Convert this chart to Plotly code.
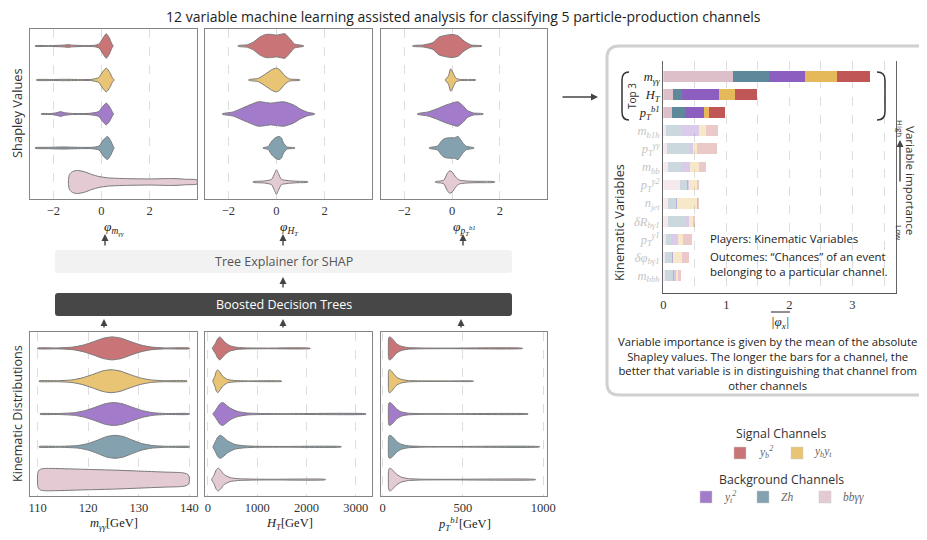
import plotly.graph_objects as go

OX, OY = 8, 8  # page body margin offset
W, H = 927 - 2 * OX, 540 - 2 * OY
SANS = "Open Sans, sans-serif"
SERIF = "Liberation Serif, DejaVu Serif, serif"


def px(x):
    return (x - OX) / W


def py(y):
    return 1 - (y - OY) / H


# ---------------- data ----------------
channels = ["y_b^2", "y_b y_t", "y_t^2", "Zh", "bbγγ"]
violin_colors = ["#c97476", "#e8c474", "#a27ccb", "#83a1af", "#e3cad3"]
bar_colors = ["#c05656", "#e5b85a", "#8c5ebf", "#5e899b", "#ddbfca"]

# Shapley value violin profiles (value positions, half widths) per channel
shap_myy_x = [
    [-2.75, -2.2, -1.6, -1.4, -1.2, -0.8, -0.3, -0.1, 0.05, 0.2, 0.32, 0.42, 0.48],
    [-2.7, -2.0, -1.5, -1.0, -0.4, -0.12, 0.05, 0.2, 0.35, 0.45, 0.52],
    [-2.5, -2.1, -1.85, -1.7, -1.55, -1.2, -0.5, -0.12, 0.05, 0.2, 0.35, 0.45, 0.5],
    [-2.75, -2.2, -1.6, -1.0, -0.4, -0.1, 0.08, 0.25, 0.38, 0.48, 0.52],
    [-1.37, -1.33, -1.2, -1.0, -0.7, -0.4, -0.1, 0.3, 1.0, 2.0, 2.7, 3.1, 3.5, 3.97],
]
shap_myy_w = [
    [0.01, 0.012, 0.025, 0.04, 0.025, 0.015, 0.02, 0.06, 0.22, 0.36, 0.25, 0.08, 0.01],
    [0.01, 0.015, 0.02, 0.015, 0.02, 0.07, 0.24, 0.35, 0.22, 0.07, 0.01],
    [0.01, 0.015, 0.04, 0.07, 0.04, 0.015, 0.02, 0.07, 0.22, 0.32, 0.2, 0.06, 0.01],
    [0.01, 0.02, 0.03, 0.02, 0.02, 0.06, 0.24, 0.34, 0.22, 0.06, 0.01],
    [0.08, 0.22, 0.31, 0.34, 0.3, 0.22, 0.16, 0.12, 0.1, 0.09, 0.1, 0.1, 0.08, 0.06],
]
shap_ht_x = [
    [-1.6, -1.2, -0.95, -0.7, -0.45, -0.2, 0.0, 0.15, 0.35, 0.55, 0.75, 1.12],
    [-1.15, -0.75, -0.45, -0.2, 0.0, 0.15, 0.35, 0.55, 0.97],
    [-2.24, -1.8, -1.4, -1.0, -0.75, -0.45, -0.25, 0.0, 0.3, 0.7, 1.0, 1.3, 1.58],
    [-0.55, -0.35, -0.2, -0.05, 0.1, 0.2, 0.3, 0.45, 0.76],
    [-0.97, -0.5, -0.2, -0.08, 0.0, 0.08, 0.2, 0.5, 0.9, 1.3],
]
shap_ht_w = [
    [0.01, 0.04, 0.12, 0.26, 0.34, 0.34, 0.32, 0.34, 0.36, 0.22, 0.06, 0.01],
    [0.01, 0.05, 0.18, 0.3, 0.35, 0.29, 0.12, 0.03, 0.01],
    [0.01, 0.06, 0.18, 0.3, 0.36, 0.34, 0.32, 0.34, 0.36, 0.27, 0.14, 0.05, 0.01],
    [0.01, 0.04, 0.2, 0.3, 0.34, 0.3, 0.14, 0.03, 0.01],
    [0.01, 0.03, 0.08, 0.25, 0.36, 0.25, 0.08, 0.04, 0.02, 0.01],
]
shap_pt_x = [
    [-1.64, -1.2, -0.8, -0.55, -0.3, 0.0, 0.25, 0.5, 0.8, 1.23],
    [-0.28, -0.15, -0.06, 0.05, 0.15, 0.3, 0.6, 0.98],
    [-1.44, -1.0, -0.6, -0.3, 0.0, 0.24, 0.45, 0.65, 0.9, 1.3],
    [-0.95, -0.6, -0.45, -0.3, -0.1, 0.1, 0.25, 0.45, 0.6, 0.91],
    [-0.7, -0.35, -0.2, -0.1, 0.0, 0.15, 0.3, 0.6, 1.0, 1.4, 1.78],
]
shap_pt_w = [
    [0.01, 0.03, 0.1, 0.26, 0.31, 0.34, 0.3, 0.15, 0.03, 0.01],
    [0.01, 0.12, 0.33, 0.2, 0.06, 0.02, 0.015, 0.01],
    [0.01, 0.06, 0.16, 0.25, 0.32, 0.36, 0.25, 0.1, 0.03, 0.01],
    [0.01, 0.06, 0.2, 0.28, 0.3, 0.3, 0.34, 0.15, 0.05, 0.01],
    [0.01, 0.05, 0.25, 0.33, 0.3, 0.15, 0.06, 0.03, 0.02, 0.02, 0.01],
]

# Kinematic distribution violin profiles
kin_myy_x = [
    [110, 114, 117, 119, 121, 123, 124.7, 126.5, 128.5, 130.5, 132.5, 135, 140],
    [110.3, 114, 116.8, 118.8, 120.8, 122.8, 124.5, 126.3, 128.3, 130.3, 132.3, 135, 139.5],
    [110.5, 114, 117.3, 119.3, 121.3, 123.3, 125, 126.8, 128.8, 130.8, 132.8, 135.5, 140],
    [110.3, 114.5, 118, 120, 121.8, 123.6, 125.3, 127, 128.8, 130.6, 132.6, 135.5, 140],
    [110, 110.15, 110.6, 111.5, 113, 120, 125, 130, 135, 138.5, 139.6, 139.95, 140],
]
kin_myy_w = [
    [0.01, 0.015, 0.04, 0.1, 0.2, 0.31, 0.35, 0.31, 0.2, 0.1, 0.04, 0.015, 0.01],
    [0.01, 0.015, 0.04, 0.1, 0.2, 0.31, 0.35, 0.31, 0.2, 0.1, 0.04, 0.015, 0.01],
    [0.01, 0.015, 0.04, 0.1, 0.2, 0.31, 0.35, 0.31, 0.2, 0.1, 0.04, 0.015, 0.01],
    [0.01, 0.015, 0.04, 0.1, 0.2, 0.31, 0.35, 0.31, 0.2, 0.1, 0.04, 0.015, 0.01],
    [0.15, 0.26, 0.32, 0.34, 0.34, 0.31, 0.29, 0.26, 0.23, 0.21, 0.17, 0.09, 0.02],
]
kin_ht_x = [
    [90, 150, 200, 240, 280, 350, 450, 600, 800, 1200, 2075],
    [100, 140, 170, 200, 240, 300, 400, 550, 800, 1493],
    [103, 150, 200, 250, 300, 350, 450, 600, 800, 1100, 1600, 3205],
    [103, 150, 200, 250, 300, 400, 550, 750, 1000, 1500, 2705],
    [75, 120, 170, 210, 260, 330, 450, 600, 900, 1300, 2383],
]
kin_ht_w = [
    [0.01, 0.15, 0.3, 0.35, 0.3, 0.18, 0.08, 0.03, 0.015, 0.01, 0.006],
    [0.01, 0.15, 0.3, 0.35, 0.28, 0.15, 0.05, 0.02, 0.01, 0.006],
    [0.01, 0.1, 0.22, 0.32, 0.35, 0.3, 0.18, 0.08, 0.03, 0.015, 0.01, 0.006],
    [0.01, 0.15, 0.3, 0.35, 0.31, 0.18, 0.07, 0.03, 0.015, 0.01, 0.006],
    [0.01, 0.12, 0.3, 0.35, 0.28, 0.15, 0.06, 0.03, 0.015, 0.01, 0.006],
]
kin_pt_x = [
    [36, 37, 40, 45, 55, 70, 90, 120, 160, 250, 400, 870],
    [36, 37, 40, 45, 55, 70, 90, 120, 160, 250, 400, 565],
    [36, 37, 40, 45, 55, 70, 90, 120, 160, 250, 400, 905],
    [36, 37, 40, 45, 55, 70, 90, 120, 160, 250, 400, 977],
    [36, 37, 40, 45, 55, 70, 90, 120, 160, 250, 400, 952],
]
kin_pt_w = [
    [0.2, 0.3, 0.34, 0.35, 0.32, 0.24, 0.13, 0.06, 0.025, 0.012, 0.008, 0.005],
    [0.2, 0.3, 0.34, 0.35, 0.31, 0.22, 0.11, 0.05, 0.02, 0.01, 0.007, 0.005],
    [0.2, 0.3, 0.34, 0.35, 0.32, 0.25, 0.14, 0.06, 0.025, 0.012, 0.008, 0.005],
    [0.2, 0.3, 0.34, 0.35, 0.33, 0.26, 0.15, 0.07, 0.03, 0.012, 0.008, 0.005],
    [0.15, 0.25, 0.32, 0.35, 0.32, 0.25, 0.15, 0.07, 0.03, 0.012, 0.008, 0.005],
]

# Mean |Shapley| importances per variable and channel
variables = [
    "<i>m<sub>γγ</sub></i>", "<i>H<sub>T</sub></i>", "<i>p<sub>T</sub><sup>b1</sup></i>",
    "<i>m<sub>b1h</sub></i>", "<i>p<sub>T</sub><sup>γγ</sup></i>", "<i>m<sub>bb</sub></i>",
    "<i>p<sub>T</sub><sup>γ2</sup></i>", "<i>n<sub>jet</sub></i>", "<i>δR<sub>bγ1</sub></i>",
    "<i>p<sub>T</sub><sup>γ1</sup></i>", "<i>δφ<sub>bγ1</sub></i>", "<i>m<sub>bbh</sub></i>",
]
imp_bbyy = [1.11, 0.156, 0.14, 0.05, 0.06, 0.08, 0.27, 0.08, 0.08, 0.05, 0.03, 0.02]
imp_zh = [0.56, 0.135, 0.20, 0.25, 0.35, 0.21, 0.12, 0.13, 0.27, 0.075, 0.12, 0.15]
imp_yt2 = [0.57, 0.595, 0.306, 0.26, 0.06, 0.14, 0.01, 0.005, 0.05, 0.105, 0.005, 0.03]
imp_ybyt = [0.52, 0.245, 0.074, 0.12, 0.07, 0.13, 0.13, 0.33, 0.07, 0.08, 0.135, 0.03]
imp_yb2 = [0.51, 0.36, 0.265, 0.195, 0.305, 0.11, 0.04, 0.02, 0.035, 0.14, 0.11, 0.05]

# ---------------- figure ----------------
fig = go.Figure()

cols = [(30, 197), (205, 372), (381, 547)]
top_y = (29, 199)
bot_y = (332, 496)

panels = [
    (shap_myy_x, shap_myy_w, cols[0], top_y, [-2.97, 3.97], [-2, 0, 2]),
    (shap_ht_x, shap_ht_w, cols[1], top_y, [-2.97, 3.97], [-2, 0, 2]),
    (shap_pt_x, shap_pt_w, cols[2], top_y, [-2.97, 3.97], [-2, 0, 2]),
    (kin_myy_x, kin_myy_w, cols[0], bot_y, [108.5, 141.5], [110, 120, 130, 140]),
    (kin_ht_x, kin_ht_w, cols[1], bot_y, [-60, 3330], [0, 1000, 2000, 3000]),
    (kin_pt_x, kin_pt_w, cols[2], bot_y, [-10, 1023], [0, 500, 1000]),
]

layout_axes = {}
for k, (xl, wl, xc, yc, rng, tv) in enumerate(panels, start=1):
    xa = "x" if k == 1 else f"x{k}"
    ya = "y" if k == 1 else f"y{k}"
    for i, (xs, ws) in enumerate(zip(xl, wl)):
        xx = list(xs) + list(xs[::-1]) + [xs[0]]
        yy = [i - w for w in ws] + [i + w for w in ws[::-1]] + [i - ws[0]]
        fig.add_trace(go.Scatter(
            x=xx, y=yy, mode="lines", fill="toself", fillcolor=violin_colors[i],
            line=dict(color="#7a7a7a", width=1, shape="spline", smoothing=0.6),
            xaxis=xa, yaxis=ya, hoverinfo="skip", showlegend=False))
    layout_axes["xaxis" if k == 1 else f"xaxis{k}"] = dict(
        domain=[px(xc[0]), px(xc[1])], range=rng, tickvals=tv, anchor=ya,
        showgrid=True, gridcolor="#dddddd", griddash="dash", gridwidth=1,
        showline=True, mirror=True, linecolor="#858585", linewidth=1.2,
        ticks="", zeroline=False, tickfont=dict(family=SERIF, size=12.5, color="#333"))
    layout_axes["yaxis" if k == 1 else f"yaxis{k}"] = dict(
        domain=[py(yc[1]), py(yc[0])], range=[4.5, -0.5], anchor=xa,
        showgrid=False, showticklabels=False, showline=True, mirror=True,
        linecolor="#858585", linewidth=1.2, ticks="", zeroline=False)

# stacked importance bars
rows = list(range(len(variables)))
opac = [1, 1, 1] + [0.32] * (len(variables) - 3)
for vals, ci in [(imp_bbyy, 4), (imp_zh, 3), (imp_yt2, 2), (imp_ybyt, 1), (imp_yb2, 0)]:
    fig.add_trace(go.Bar(
        x=vals, y=rows, orientation="h", width=0.6,
        marker=dict(color=bar_colors[ci], opacity=opac, line=dict(width=0)),
        xaxis="x7", yaxis="y7", hoverinfo="skip", showlegend=False))

ticktext = [(v if i < 3 else f"<span style='color:#c4c4c4'>{v}</span>") for i, v in enumerate(variables)]
layout_axes["xaxis7"] = dict(
    domain=[px(663.3), px(896)], range=[0, 3.69], anchor="y7",
    tickvals=[0, 0.5, 1, 1.5, 2, 2.5, 3, 3.5], ticktext=["0", "", "1", "", "2", "", "3", ""],
    showgrid=True, gridcolor="#dddddd", griddash="dash", showline=True,
    linecolor="#555", linewidth=1.2, ticks="", zeroline=False,
    tickfont=dict(family=SERIF, size=12.5, color="#333"))
layout_axes["yaxis7"] = dict(
    domain=[py(293.3), py(60.7)], range=[11.99, -0.88], anchor="x7",
    tickvals=rows, ticktext=ticktext, showgrid=False, showline=True, mirror=True,
    linecolor="#666", linewidth=1.2, ticks="", zeroline=False,
    tickfont=dict(family=SERIF, size=12.5, color="#222"))


def txt(x, y, s, size=11, color="#333", family=SANS, angle=0, xanchor="center", align="center"):
    return dict(x=px(x), y=py(y), xref="paper", yref="paper", text=s, showarrow=False,
                font=dict(size=size, color=color, family=family), textangle=angle,
                xanchor=xanchor, yanchor="middle", align=align)


def arrow(x0, y0, x1, y1):
    # tail (x0, y0) -> head (x1, y1), in pixels
    return dict(x=px(x1), y=py(y1), xref="paper", yref="paper", ax=x0 - x1, ay=y0 - y1,
                axref="pixel", ayref="pixel", text="", showarrow=True, arrowhead=2,
                arrowsize=1, arrowwidth=1.4, arrowcolor="#444", standoff=0, startstandoff=0)


ann = [
    txt(463, 16, "12 variable machine learning assisted analysis for classifying 5 particle-production channels", 14, "#222"),
    txt(17, 113, "Shapley Values", 12.9, "#333", angle=-90),
    txt(17, 414, "Kinematic Distributions", 12.6, "#333", angle=-90),
    txt(114, 228, "<i>φ<sub>m<sub>γγ</sub></sub></i>", 13.5, "#222", SERIF),
    txt(289, 228, "<i>φ<sub>H<sub>T</sub></sub></i>", 13.5, "#222", SERIF),
    txt(464, 228, "<i>φ<sub>p<sub>T</sub><sup>b1</sup></sub></i>", 13.5, "#222", SERIF),
    txt(114, 524, "<i>m<sub>γγ</sub></i>[GeV]", 12.5, "#222", SERIF),
    txt(289, 524, "<i>H<sub>T</sub></i>[GeV]", 12.5, "#222", SERIF),
    txt(464, 524, "<i>p<sub>T</sub><sup>b1</sup></i>[GeV]", 12.5, "#222", SERIF),
    txt(284, 261, "Tree Explainer for SHAP", 12.5, "#555"),
    txt(284, 304, "Boosted Decision Trees", 12.5, "#ffffff"),
    txt(619, 223, "Kinematic Variables", 12.8, "#333", angle=-90),
    txt(632, 96, "Top 3", 10, "#333", angle=-90),
    txt(911, 180, "Variable importance", 11.6, "#333", angle=90),
    txt(900, 128, "High", 8, "#333", angle=90),
    txt(900, 233, "Low", 8, "#333", angle=90),
    txt(708, 238, "Players: Kinematic Variables", 11.4, "#222", xanchor="left", align="left"),
    txt(708, 264, "Outcomes: “Chances” of an event<br>belonging to a particular channel.", 11.4, "#222", xanchor="left", align="left"),
    txt(780, 322, "<i>|φ<sub>x</sub>|</i>", 13, "#222", SERIF),
    txt(767, 363, "Variable importance is given by the mean of the absolute<br>Shapley values. The longer the bars for a channel, the<br>better that variable is in distinguishing that channel from<br>other channels", 11.3, "#222"),
    txt(781, 433, "Signal Channels", 12.3, "#333"),
    txt(781, 479, "Background Channels", 12.3, "#333"),
    txt(757, 452, "<i>y<sub>b</sub><sup>2</sup></i>", 11.5, "#666", SERIF, xanchor="left"),
    txt(812, 452, "<i>y<sub>b</sub>y<sub>t</sub></i>", 11.5, "#666", SERIF, xanchor="left"),
    txt(722, 497, "<i>y<sub>t</sub><sup>2</sup></i>", 11.5, "#666", SERIF, xanchor="left"),
    txt(779, 497, "<i>Zh</i>", 11.5, "#666", SERIF, xanchor="left"),
    txt(841, 497, "<i>bbγγ</i>", 11.5, "#666", SERIF, xanchor="left"),
    arrow(105, 247, 105, 234), arrow(283, 247, 283, 234), arrow(463, 247, 463, 234),
    arrow(283, 289, 283, 277),
    arrow(104, 329, 104, 319), arrow(283, 329, 283, 319), arrow(461, 329, 461, 319),
    arrow(561, 97, 598, 97),
    arrow(900, 183, 900, 140),
]


def rpath(x0, y0, x1, y1, r):
    X, Y = px, py
    return (f"M {X(x0 + r)},{Y(y0)} L {X(x1 - r)},{Y(y0)} Q {X(x1)},{Y(y0)} {X(x1)},{Y(y0 + r)} "
            f"L {X(x1)},{Y(y1 - r)} Q {X(x1)},{Y(y1)} {X(x1 - r)},{Y(y1)} L {X(x0 + r)},{Y(y1)} "
            f"Q {X(x0)},{Y(y1)} {X(x0)},{Y(y1 - r)} L {X(x0)},{Y(y0 + r)} Q {X(x0)},{Y(y0)} {X(x0 + r)},{Y(y0)} Z")


shapes = [
    dict(type="path", xref="paper", yref="paper", path=rpath(607, 46, 945, 395, 12),
         line=dict(color="#d0d0d0", width=3), fillcolor="rgba(0,0,0,0)"),
    dict(type="path", xref="paper", yref="paper", path=rpath(55, 250, 512, 273, 3),
         line=dict(width=0), fillcolor="#f2f2f2"),
    dict(type="path", xref="paper", yref="paper", path=rpath(55, 293, 512, 316, 3),
         line=dict(width=0), fillcolor="#474747"),
    dict(type="path", xref="paper", yref="paper",
         path=f"M {px(629)},{py(72)} Q {px(622)},{py(72)} {px(622)},{py(80)} L {px(622)},{py(112)} Q {px(622)},{py(120)} {px(629)},{py(120)}",
         line=dict(color="#333", width=1.5)),
    dict(type="path", xref="paper", yref="paper",
         path=f"M {px(877)},{py(72)} Q {px(885)},{py(72)} {px(885)},{py(80)} L {px(885)},{py(112)} Q {px(885)},{py(120)} {px(877)},{py(120)}",
         line=dict(color="#333", width=1.5)),
    dict(type="line", xref="paper", yref="paper", x0=px(771), x1=px(790), y0=py(312), y1=py(312),
         line=dict(color="#222", width=1)),
]
legend_boxes = [(734, 447, 0), (791, 447, 1), (700, 491, 2), (757, 491, 3), (819, 491, 4)]
for x0, y0, ci in legend_boxes:
    shapes.append(dict(type="rect", xref="paper", yref="paper", x0=px(x0), x1=px(x0 + 12),
                       y0=py(y0 + 12), y1=py(y0), fillcolor=violin_colors[ci],
                       line=dict(color="#cccccc", width=0.5)))

fig.update_layout(
    width=W, height=H, margin=dict(l=0, r=0, t=0, b=0, pad=0),
    template="none", paper_bgcolor="white", plot_bgcolor="white",
    barmode="stack", bargap=0.4, showlegend=False,
    font=dict(family=SANS, size=11, color="#333"),
    annotations=ann, shapes=shapes, **layout_axes)

fig.write_html("out.html")
